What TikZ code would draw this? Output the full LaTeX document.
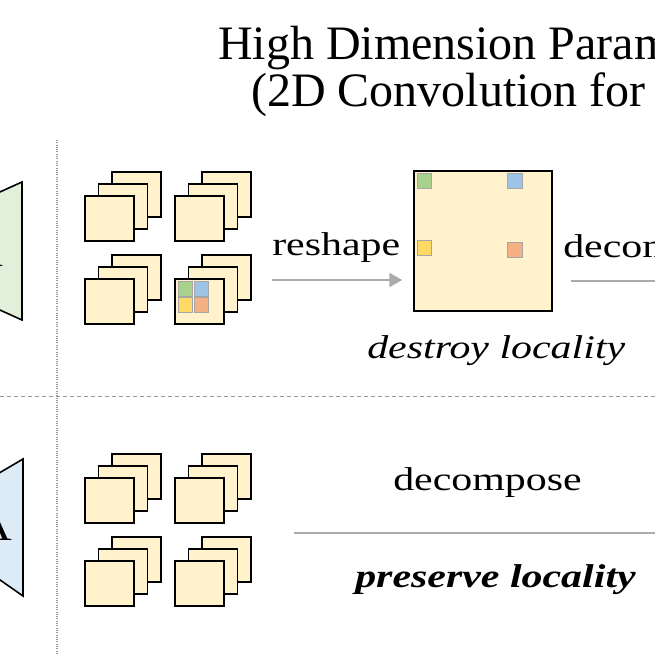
\documentclass[tikz,border=0pt]{standalone}
\usepackage{fontspec}
\setmainfont{Liberation Serif}
\usepackage{tikz}
\usetikzlibrary{positioning}
\usetikzlibrary {arrows.meta}

\definecolor{tilefill}{RGB}{255,242,204}
\definecolor{greenfill}{RGB}{226,239,218}
\definecolor{bluefill}{RGB}{221,235,247}
\definecolor{cgreen}{RGB}{169,209,142}
\definecolor{cblue}{RGB}{157,195,230}
\definecolor{cyellow}{RGB}{255,217,102}
\definecolor{corange}{RGB}{244,177,131}
\definecolor{linegray}{RGB}{170,170,170}

\begin{document}
\begin{tikzpicture}[x=1pt,y=-1pt,
		tile/.style={draw=black,line width=1.6pt,fill=tilefill},
		cell/.style={draw=gray!70,line width=0.8pt},
		lbl/.style={font=\fontsize{33}{38}\selectfont,xscale=1.27,inner sep=0pt,anchor=base west},
		ttl/.style={font=\fontsize{48}{52}\selectfont,xscale=1.0,inner sep=0pt,anchor=base west},
		conn/.style={draw=linegray,line width=2pt}]
		\useasboundingbox (0,0) rectangle (655,655);
		\clip (0,0) rectangle (655,655);
		
		\node[ttl] (title1) at (218,60) {High Dimension Param};
		\node[ttl] (title2) at (251,107) {(2D Convolution for};
		
		\draw[line width=1.6pt,fill=greenfill] (22,182) -- (22,320) -- (-40,292) -- (-40,210) -- cycle;
		\draw[line width=1.6pt,fill=bluefill] (23,459) -- (23,596) -- (-40,552) -- (-40,496) -- cycle;
		\node[font=\fontsize{40}{44}\selectfont,xscale=1.2,inner sep=0pt,anchor=base east] (atop) at (3,266) {A};
		\node[font=\fontsize{40}{44}\selectfont,xscale=1.2,inner sep=0pt,anchor=base east] (abot) at (12,540) {A};
		
		\draw[gray!80,line width=1.2pt,dash pattern=on 1pt off 1.3pt] (57,140) -- (57,655);
		\draw[gray!80,line width=1pt,dash pattern=on 4pt off 3pt] (0,396) -- (655,396);
		
		\foreach \x/\y in {85/196,175/196,85/279,175/279,85/478,175/478,85/561,175/561}{
			\draw[tile] (\x+27,\y-24) rectangle +(49,45);
			\draw[tile] (\x+13.5,\y-12) rectangle +(49,45);
			\draw[tile] (\x,\y) rectangle +(49,45);
		}
		\draw[cell,fill=cgreen] (178,281) rectangle (192,296);
		\draw[cell,fill=cblue] (194,281) rectangle (208,296);
		\draw[cell,fill=cyellow] (178,297) rectangle (192,312);
		\draw[cell,fill=corange] (194,297) rectangle (208,312);
		
		\node[draw=black,line width=1.5pt,fill=tilefill,minimum width=138pt,minimum height=140pt,inner sep=0pt] (bigsq) at (483,241) {};
		\draw[cell,fill=cgreen] (417,173) rectangle (431,188);
		\draw[cell,fill=cblue] (507,173) rectangle (522,188);
		\draw[cell,fill=cyellow] (417,240) rectangle (431,255);
		\draw[cell,fill=corange] (507,242) rectangle (522,257);
		
		\coordinate (rsstart) at (272,280);
		\draw[conn,-{Triangle[length=13pt,width=14pt]},shorten >=11pt] (rsstart) -- (rsstart -| bigsq.west);
		\node[lbl] (reshape) at (272,255) {reshape};
		
		\coordinate (dcstart) at (571,281);
		\coordinate (dcend) at (660,281);
		\draw[conn] (dcstart) -- (dcend);
		\node[lbl] (decomtop) at (563,257) {decom};
		\node[lbl,font=\fontsize{33}{38}\selectfont\itshape] (destroy) at (367,358) {destroy locality};
		
		\node[lbl] (decompose) at (393,490) {decompose};
		\coordinate (pvstart) at (294,533);
		\coordinate (pvend) at (660,533);
		\draw[conn] (pvstart) -- (pvend);
		\node[lbl,font=\fontsize{33}{38}\selectfont\bfseries\itshape] (preserve) at (355,587) {preserve locality};
	\end{tikzpicture}
\end{document}
